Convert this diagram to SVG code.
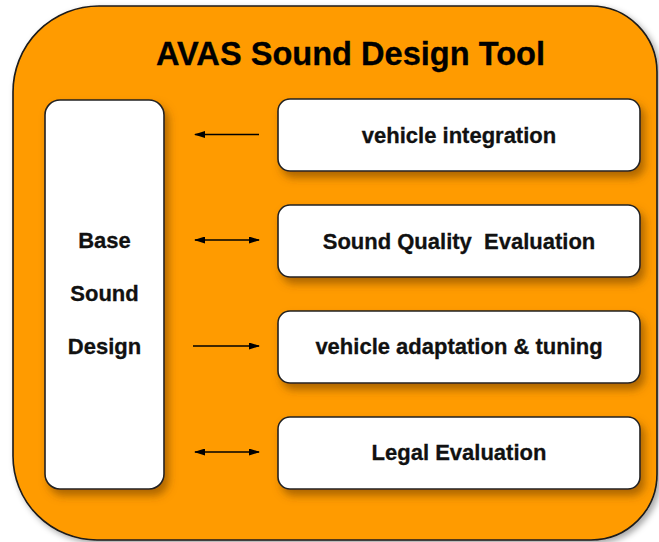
<svg xmlns="http://www.w3.org/2000/svg" width="659" height="542" viewBox="0 0 659 542">
  <style>
    .panel { fill: #FF9B00; stroke: #1a1a1a; stroke-width: 1.6; }
    .box { fill: #FFFFFF; stroke: #222222; stroke-width: 1.6; }
    .label { font-family: "Liberation Sans", Arial, sans-serif; font-weight: bold; font-size: 22px; fill: #111111; stroke: #111111; stroke-width: 0.3; text-anchor: middle; }
    .title { font-family: "Liberation Sans", Arial, sans-serif; font-weight: bold; font-size: 32.6px; fill: #000000; stroke: #000000; stroke-width: 0.3; text-anchor: middle; }
    .link { stroke: #000000; stroke-width: 1.6; fill: none; }
  </style>
  <defs>
    <filter id="panelShadow" x="-5%" y="-5%" width="115%" height="115%">
      <feDropShadow dx="3" dy="3" stdDeviation="3" flood-color="#000000" flood-opacity="0.35"/>
    </filter>
    <filter id="boxShadow" x="-10%" y="-10%" width="130%" height="140%">
      <feDropShadow dx="4" dy="6" stdDeviation="4" flood-color="#6b3a00" flood-opacity="0.55"/>
    </filter>
    <marker id="head" viewBox="0 0 11 7" refX="10" refY="3.5" markerWidth="11" markerHeight="7" markerUnits="userSpaceOnUse" orient="auto-start-reverse">
      <path d="M0,0 L11,3.5 L0,7 Z" fill="#000000"/>
    </marker>
  </defs>

  <!-- outer tool panel -->
  <g id="panel">
    <path class="panel" filter="url(#panelShadow)" d="M99,6 H591 A66,66 0 0 1 657,72 V474 A66,66 0 0 1 591,540 H97 A84,84 0 0 1 13,456 V92 A86,86 0 0 1 99,6 Z"/>
    <text class="title" x="350.5" y="65">AVAS Sound Design Tool</text>
  </g>

  <!-- base sound design column -->
  <g id="base-sound-design">
    <rect class="box" filter="url(#boxShadow)" x="45" y="100" width="119" height="389" rx="15"/>
    <text class="label" x="104.5" y="248">Base</text>
    <text class="label" x="104.5" y="301">Sound</text>
    <text class="label" x="104.5" y="354">Design</text>
  </g>

  <g id="vehicle-integration">
    <rect class="box" filter="url(#boxShadow)" x="278" y="99" width="362" height="72" rx="12"/>
    <text class="label" x="459" y="143">vehicle integration</text>
  </g>

  <g id="sound-quality-evaluation">
    <rect class="box" filter="url(#boxShadow)" x="278" y="205" width="362" height="72" rx="12"/>
    <text class="label" x="459" y="248.5" xml:space="preserve">Sound Quality  Evaluation</text>
  </g>

  <g id="vehicle-adaptation">
    <rect class="box" filter="url(#boxShadow)" x="278" y="311" width="362" height="72" rx="12"/>
    <text class="label" x="459" y="354">vehicle adaptation &amp; tuning</text>
  </g>

  <g id="legal-evaluation">
    <rect class="box" filter="url(#boxShadow)" x="278" y="417" width="362" height="72" rx="12"/>
    <text class="label" x="459" y="460">Legal Evaluation</text>
  </g>

  <!-- connectors between the column and the modules -->
  <g id="connectors">
    <line class="link" x1="259" y1="134.5" x2="195" y2="134.5" marker-end="url(#head)"/>
    <line class="link" x1="195" y1="240" x2="259" y2="240" marker-start="url(#head)" marker-end="url(#head)"/>
    <line class="link" x1="193" y1="346" x2="259" y2="346" marker-end="url(#head)"/>
    <line class="link" x1="195" y1="452" x2="259" y2="452" marker-start="url(#head)" marker-end="url(#head)"/>
  </g>
</svg>
